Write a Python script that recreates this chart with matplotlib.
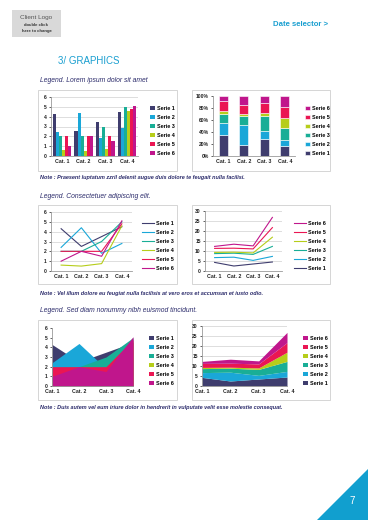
import matplotlib
matplotlib.use('Agg')
import matplotlib.pyplot as plt
from matplotlib.patches import Rectangle, Polygon
import numpy as np

plt.rcParams['font.family'] = ['Liberation Sans', 'DejaVu Sans']

# data
categories = ['Cat. 1', 'Cat. 2', 'Cat. 3', 'Cat. 4']
series_names = ['Serie 1', 'Serie 2', 'Serie 3', 'Serie 4', 'Serie 5', 'Serie 6']
serie1 = [4.3, 2.5, 3.5, 4.5]
serie2 = [2.4, 4.4, 1.8, 2.8]
serie3 = [2.0, 2.0, 3.0, 5.0]
serie4 = [0.6, 0.5, 0.75, 4.6]
serie5 = [2.0, 2.0, 2.0, 4.8]
serie6 = [1.0, 2.0, 1.5, 5.1]
series = [serie1, serie2, serie3, serie4, serie5, serie6]
colors = ['#3f3d6e', '#1aa7d8', '#19ae96', '#b6cd1a', '#ea1653', '#c0168c']

BLUE = '#1a9fd0'
NAVY = '#2b2b6b'
W, H = 368, 520

fig = plt.figure(figsize=(W / 100, H / 100), dpi=100)


def px_axes(x0, y0, x1, y1):
    return fig.add_axes([x0 / W, 1 - y1 / H, (x1 - x0) / W, (y1 - y0) / H])


def px_rect(x0, y0, x1, y1, **kw):
    fig.patches.append(Rectangle((x0 / W, 1 - y1 / H), (x1 - x0) / W, (y1 - y0) / H,
                                 transform=fig.transFigure, **kw))


def txt(x, y, s, **kw):
    fig.text(x / W, 1 - y / H, s, **kw)


def style_ax(ax, ymax, step, pct=False):
    ax.set_ylim(0, ymax)
    ticks = np.arange(0, ymax + 0.01, step)
    ax.set_yticks(ticks)
    if pct:
        ax.set_yticklabels(['%d%%' % t for t in ticks])
    ax.yaxis.grid(True, color='#d0d0d0', linewidth=0.5)
    ax.set_axisbelow(True)
    ax.patch.set_alpha(0)
    for s in ['top', 'right']:
        ax.spines[s].set_visible(False)
    for s in ['left', 'bottom']:
        ax.spines[s].set_color('#9a9a9a')
        ax.spines[s].set_linewidth(0.6)
    ax.tick_params(axis='y', length=1.5, width=0.5, pad=1.5, labelsize=3.6, colors='#222')
    ax.tick_params(axis='x', length=0, pad=2, labelsize=3.8, colors='#222')
    for lab in ax.get_xticklabels() + ax.get_yticklabels():
        lab.set_fontweight('bold')


def legend(ax, handles, labels, x, y, hl):
    ax.legend(handles, labels, loc='upper left', bbox_to_anchor=(x / W, 1 - y / H),
              bbox_transform=fig.transFigure, frameon=False, borderpad=0,
              prop={'size': 3.9, 'weight': 'bold'}, labelspacing=0.72,
              handlelength=hl, handleheight=0.9, handletextpad=0.4)


# ---- header ----
px_rect(12, 10, 61, 37, facecolor='#d9d9d9', edgecolor='none')
txt(36.5, 18, 'Client Logo', ha='center', va='center', fontsize=4.6, color='#555')
txt(36.5, 25.5, 'double click', ha='center', va='center', fontsize=3.1, color='#333', fontweight='bold')
txt(36.5, 31, 'here to change', ha='center', va='center', fontsize=3.1, color='#333', fontweight='bold')
txt(328, 24, 'Date selector >', ha='right', va='center', fontsize=5.6, color=BLUE, fontweight='bold')
txt(58, 61, '3/ GRAPHICS', ha='left', va='center', fontsize=7, color=BLUE)

# ---- chart boxes ----
for (x0, y0, x1, y1) in [(38, 90, 177, 171), (192, 90, 330, 171),
                         (38, 205, 177, 284), (192, 205, 330, 284),
                         (38, 320, 177, 400), (192, 320, 330, 400)]:
    px_rect(x0, y0, x1, y1, facecolor='none', edgecolor='#cfcfcf', linewidth=0.6, zorder=-1)

txt(40, 80, 'Legend. Lorem ipsum dolor sit amet', fontsize=4.9, style='italic', color=NAVY, va='center')
txt(40, 196, 'Legend. Consectetuer adipiscing elit.', fontsize=4.9, style='italic', color=NAVY, va='center')
txt(40, 311, 'Legend. Sed diam nonummy nibh euismod tincidunt.', fontsize=4.9, style='italic', color=NAVY, va='center')

note_kw = dict(fontsize=4.0, style='italic', fontweight='bold', color=NAVY, va='center')
txt(40, 178, 'Note : Praesent luptatum zzril delenit augue duis dolore te feugait nulla facilisi.', **note_kw)
txt(40, 293, 'Note : Vel illum dolore eu feugiat nulla facilisis at vero eros et accumsan et iusto odio.', **note_kw)
txt(40, 407, 'Note : Duis autem vel eum iriure dolor in hendrerit in vulputate velit esse molestie consequat.', **note_kw)

x = np.arange(len(categories))

# ---- chart 1: clustered bars ----
ax = px_axes(51, 97, 138, 156)
bw = 0.14
bars = []
for i, (vals, c) in enumerate(zip(series, colors)):
    bars.append(ax.bar(x + (i - 2.5) * bw, vals, bw, color=c, linewidth=0))
ax.set_xlim(-0.5, 3.5)
ax.set_xticks(x, categories)
style_ax(ax, 6, 1)
legend(ax, bars, series_names, 147, 103, 0.9)

# ---- chart 2: 100% stacked bars ----
ax = px_axes(213, 96, 295, 156)
tot = np.sum(series, axis=0)
bottom = np.zeros(4)
bars = []
for vals, c in zip(series, colors):
    p = np.array(vals) / tot * 100
    bars.append(ax.bar(x, p, 0.45, bottom=bottom, color=c, linewidth=0.4, edgecolor='white'))
    bottom += p
ax.set_xlim(-0.5, 3.5)
ax.set_xticks(x, categories)
style_ax(ax, 100, 20, pct=True)
ax.yaxis.grid(False)
legend(ax, bars[::-1], series_names[::-1], 302, 103, 0.9)

# ---- chart 3: lines ----
ax = px_axes(51, 212, 132, 271)
lines = []
for vals, c in zip(series, colors):
    lines += ax.plot(x, vals, color=c, linewidth=0.8)
ax.set_xlim(-0.5, 3.5)
ax.set_xticks(x, categories)
style_ax(ax, 6, 1)
legend(ax, lines, series_names, 139, 218, 2.3)

# ---- chart 4: stacked lines ----
ax = px_axes(205, 211, 282, 271)
cum = np.cumsum(series, axis=0)
lines = []
for vals, c in zip(cum, colors):
    lines += ax.plot(x, vals, color=c, linewidth=0.8)
ax.set_xlim(-0.5, 3.5)
ax.set_xticks(x, categories)
style_ax(ax, 30, 5)
legend(ax, lines[::-1], series_names[::-1], 291, 218, 2.3)

# ---- chart 5: overlapping areas ----
ax = px_axes(52, 328, 133, 386)
patches = []
for vals, c in zip(series, colors):
    patches.append(ax.fill_between(x, 0, vals, color=c, linewidth=0))
ax.set_xlim(0, 3)
ax.set_xticks(x, categories)
style_ax(ax, 6, 1)
ax.yaxis.grid(False)
legend(ax, patches, series_names, 146, 333, 0.9)

# ---- chart 6: stacked areas ----
ax = px_axes(202, 326, 287, 386)
base = np.zeros(4)
patches = []
for vals, c in zip(cum, colors):
    patches.append(ax.fill_between(x, base, vals, color=c, linewidth=0))
    base = vals
ax.set_xlim(0, 3)
ax.set_xticks(x, categories)
style_ax(ax, 30, 5)
legend(ax, patches[::-1], series_names[::-1], 300, 333, 0.9)

# ---- page number corner ----
fig.patches.append(Polygon([(317 / W, 0), (1, 1 - 469 / H), (1, 0)], closed=True,
                           transform=fig.transFigure, facecolor='#119fcf', edgecolor='none'))
txt(352, 501, '7', ha='center', va='center', fontsize=7, color='white')

plt.savefig('out.png', dpi=100, facecolor='white')
plt.close()
